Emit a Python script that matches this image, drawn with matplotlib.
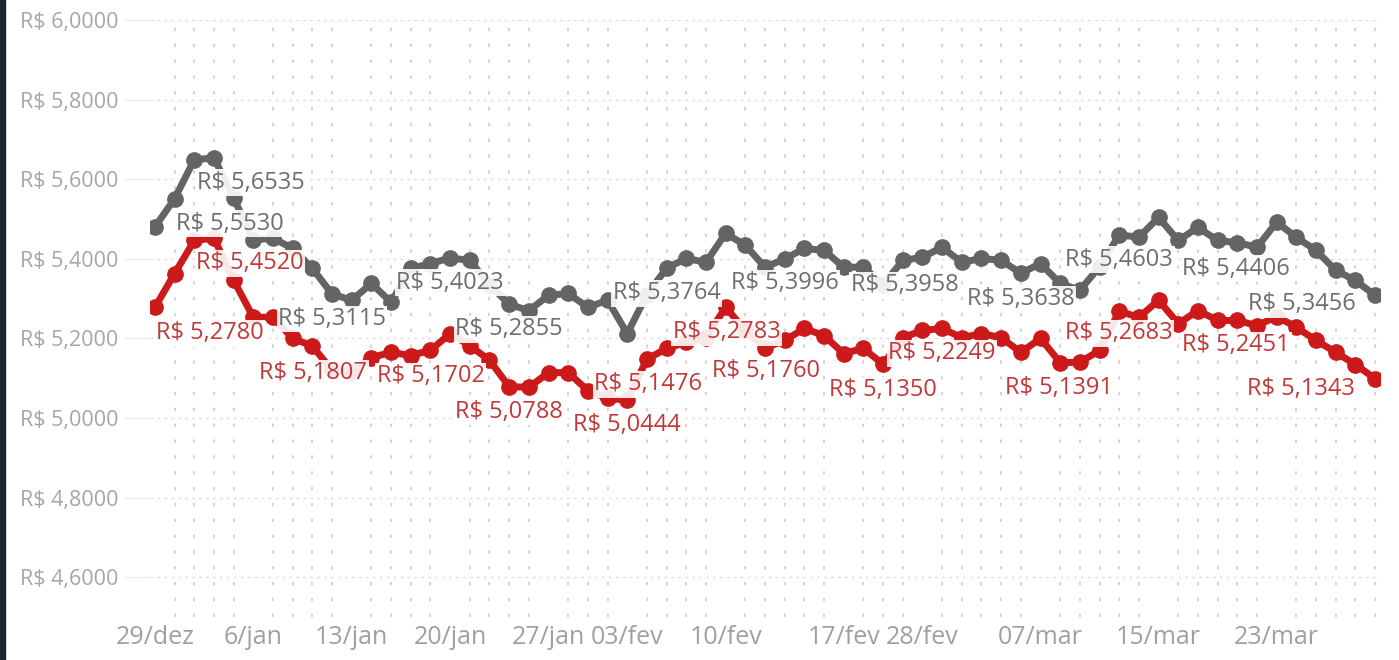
import matplotlib
matplotlib.use("Agg")
import matplotlib.pyplot as plt
from matplotlib.patches import Rectangle

# daily quotes, one value per business day
gray_vals = [
    5.4800, 5.5510, 5.6490, 5.6535, 5.5530, 5.4470, 5.4520, 5.4260, 5.3760, 5.3115,
    5.2960, 5.3380, 5.2910, 5.3760, 5.3880, 5.4023, 5.3960, 5.3350, 5.2855, 5.2700,
    5.3080, 5.3130, 5.2780, 5.2960, 5.2120, 5.3100, 5.3764, 5.4010, 5.3910, 5.4640,
    5.4340, 5.3790, 5.3996, 5.4260, 5.4210, 5.3790, 5.3790, 5.3350, 5.3958, 5.4040,
    5.4290, 5.3910, 5.4010, 5.3960, 5.3638, 5.3880, 5.3380, 5.3210, 5.3800, 5.4603,
    5.4540, 5.5040, 5.4460, 5.4790, 5.4460, 5.4406, 5.4290, 5.4920, 5.4540, 5.4210,
    5.3710, 5.3456, 5.3080,
]
red_vals = [
    5.2780, 5.3630, 5.4460, 5.4520, 5.3460, 5.2530, 5.2530, 5.2000, 5.1807, 5.1200,
    5.1150, 5.1520, 5.1650, 5.1570, 5.1702, 5.2120, 5.1820, 5.1450, 5.0788, 5.0770,
    5.1140, 5.1140, 5.0690, 5.0500, 5.0444, 5.1476, 5.1750, 5.1900, 5.2020, 5.2783,
    5.2200, 5.1760, 5.1950, 5.2250, 5.2070, 5.1620, 5.1750, 5.1350, 5.2020, 5.2200,
    5.2249, 5.2020, 5.2120, 5.2020, 5.1650, 5.2000, 5.1391, 5.1400, 5.1700, 5.2683,
    5.2530, 5.2960, 5.2370, 5.2700, 5.2450, 5.2451, 5.2320, 5.2550, 5.2280, 5.1950,
    5.1650, 5.1343, 5.0990,
]

tick_pos = [0, 5, 10, 15, 20, 24, 29, 35, 39, 45, 51, 57]
tick_labels = ["29/dez", "6/jan", "13/jan", "20/jan", "27/jan", "03/fev",
               "10/fev", "17/fev", "28/fev", "07/mar", "15/mar", "23/mar"]
y_ticks = [4.6, 4.8, 5.0, 5.2, 5.4, 5.6, 5.8, 6.0]

# which points carry a value label: (index, dx px, dy px below the point)
gray_labels = [(3, 37, 25), (4, -4, 26), (9, 0, 25), (15, 0, 25), (18, 0, 25),
               (26, 0, 25), (32, 0, 24), (38, 2, 25), (44, 0, 26), (49, 0, 25),
               (55, -1, 26), (61, -54, 24)]
red_labels = [(0, 55, 26), (3, 36, 25), (8, 1, 27), (14, 0, 26), (18, 0, 25),
              (24, 0, 25), (25, 1, 25), (29, 1, 25), (31, 1, 23), (37, 0, 26),
              (40, 0, 25), (46, -1, 25), (49, 0, 22), (55, -1, 25), (61, -54, 24)]

GRAY = "#646464"
RED = "#cc1a1a"


def brl(v):
    return "R$ " + f"{v:.4f}".replace(".", ",")


fig = plt.figure(figsize=(13.99, 6.6), dpi=100)
ax = fig.add_axes([150 / 1399, 43 / 660, 1230 / 1399, 597 / 660])

x = list(range(len(gray_vals)))
ax.plot(x, gray_vals, color=GRAY, lw=5, marker="o", ms=11, zorder=3)
ax.plot(x, red_vals, color=RED, lw=5, marker="o", ms=11, zorder=3)

for vals, labels, col in [(gray_vals, gray_labels, "#6e6e6e"),
                          (red_vals, red_labels, "#c23838")]:
    for i, dx, dy in labels:
        ax.annotate(brl(vals[i]), (i, vals[i]), xytext=(dx, -dy),
                    textcoords="offset pixels", ha="center", va="center",
                    fontsize=17, color=col, family="Open Sans", zorder=5,
                    bbox=dict(boxstyle="square,pad=0.06", fc="white",
                              ec="none", alpha=0.9))

ax.set_xlim(-0.25, 62.25)
ax.set_ylim(4.5, 6.0)
ax.set_xticks(tick_pos)
ax.set_xticklabels(tick_labels, fontsize=18, color="#a0a0a0", family="Open Sans")
ax.set_xticks(x, minor=True)
ax.set_yticks(y_ticks)
ax.set_yticklabels([brl(v) for v in y_ticks], fontsize=15.5, color="#a6a6a6",
                   family="Open Sans")
ax.tick_params(axis="x", which="both", length=0, pad=6)
ax.tick_params(axis="y", length=18, color="#e8e8e8", pad=5)

ax.grid(axis="x", which="minor", color="#cccccc", lw=1.2, ls=(0, (2, 7.5)))
ax.grid(axis="y", which="major", color="#dedede", lw=1.0, ls=(0, (2, 3)))
for s in ax.spines.values():
    s.set_visible(False)

fig.patches.append(Rectangle((0, 0), 5 / 1399, 1, transform=fig.transFigure,
                             color="#1c2633", zorder=10))

fig.savefig("out.png", dpi=100)
